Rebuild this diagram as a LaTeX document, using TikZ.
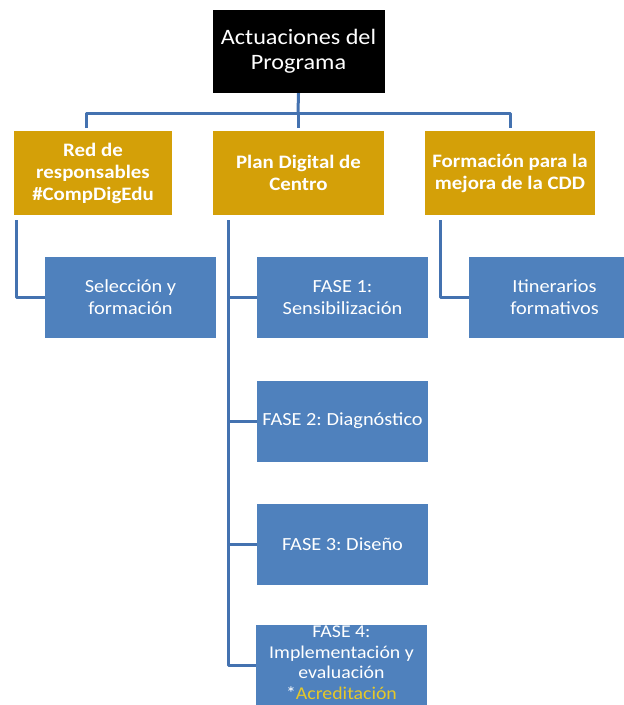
\documentclass[tikz,border=0pt]{standalone}
\usepackage{fontspec}
\setmainfont{Carlito}[FakeStretch=1.1]
\frenchspacing
\definecolor{gold}{RGB}{212,160,8}
\definecolor{boxblue}{RGB}{79,129,189}
\definecolor{linkblue}{RGB}{68,114,176}
\definecolor{accyellow}{RGB}{230,200,40}
\begin{document}
\begin{tikzpicture}[x=1pt,y=-1pt,
  topbox/.style={fill=black,text=white,minimum width=172pt,minimum height=83pt,inner sep=0pt,align=center,font=\fontsize{22}{25}\selectfont},
  goldbox/.style={fill=gold,text=white,minimum width=171pt,minimum height=84pt,inner sep=0pt,align=center,font=\fontsize{19}{22}\selectfont\bfseries},
  bluebox/.style={fill=boxblue,text=white,minimum width=171pt,minimum height=81pt,inner sep=0pt,align=center,font=\fontsize{18.5}{22}\selectfont},
  link/.style={draw=linkblue,line width=3pt,line join=round}]
\useasboundingbox (0,0) rectangle (624,705);
\fill[white] (0,0) rectangle (624,705);
\node[topbox] (top) at (298.5,51.5) {Actuaciones del\\Programa};
\node[goldbox,minimum width=158pt] (red) at (93,173) {Red de\\responsables\\\#CompDigEdu};
\node[goldbox] (plan) at (298.5,173) {Plan Digital de\\Centro};
\node[goldbox,minimum width=170pt] (form) at (510,173) {Formación para la\\mejora de la CDD};
\node[bluebox] (sel) at (130.5,297.5) {Selección y\\formación};
\node[bluebox] (f1) at (342.5,297.5) {FASE 1:\\Sensibilización};
\node[bluebox] (itin) at (554.5,297.5) {Itinerarios\\formativos};
\node[bluebox] (f2) at (342.5,421) {FASE 2: Diagnóstico};
\node[bluebox] (f3) at (342.5,544) {FASE 3: Diseño};
\node[bluebox,minimum height=80pt] (f4) at (341.5,665) {};
\node[font=\fontsize{18}{20.5}\selectfont,text=white,align=center,inner sep=0pt] (f4t) at (341.5,662.5) {FASE 4:\\Implementación y\\evaluación\\*\textcolor{accyellow}{Acreditación}};
% top bus
\coordinate (bus) at (298,113);
\coordinate (bl) at (86,128);
\coordinate (bm) at (298,128);
\coordinate (br) at (510,128);
\draw[link] (top.south) -- (bus);
\draw[link] (bl) |- (bus) -| (br);
\draw[link] (bus) -- (bm);
% left branch
\coordinate (lv) at (16,220);
\draw[link] (lv) |- (sel.west);
% middle branch
\coordinate (mv) at (228,220);
\draw[link] (mv) |- (f4.west);
\coordinate (m1) at (228,297.5);
\coordinate (m2) at (228,421);
\coordinate (m3) at (228,544);
\draw[link] (m1) -- (f1.west);
\draw[link] (m2) -- (f2.west);
\draw[link] (m3) -- (f3.west);
% right branch
\coordinate (rv) at (440,220);
\draw[link] (rv) |- (itin.west);
\end{tikzpicture}
\end{document}
